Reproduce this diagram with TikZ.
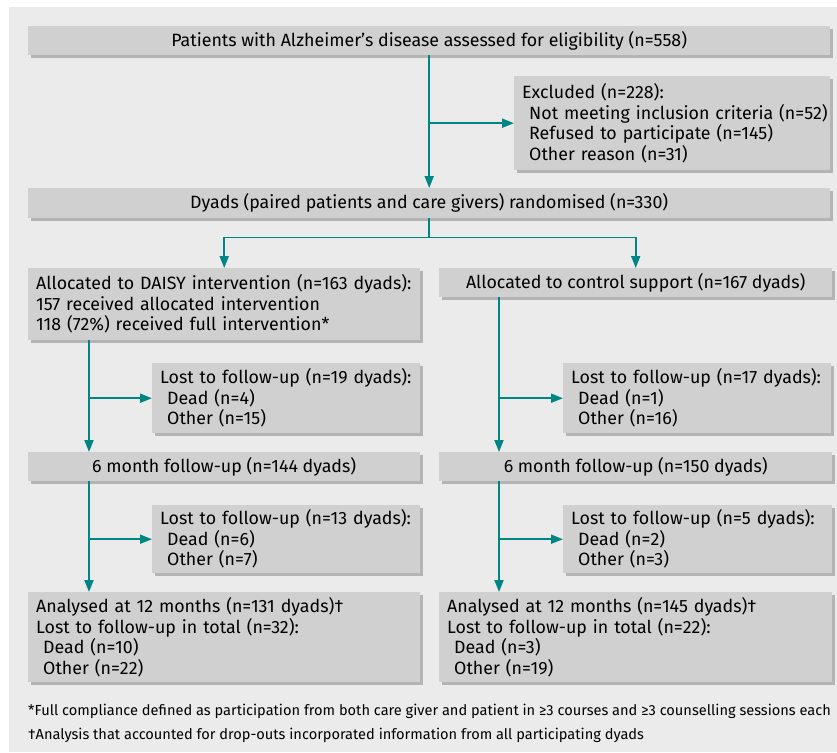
\documentclass[tikz,border=0pt]{standalone}
\usepackage{fontspec}
\setmainfont{Fira Sans}
\usetikzlibrary{shadows,arrows.meta,positioning,calc}
\definecolor{panel}{RGB}{235,235,235}
\definecolor{boxgray}{RGB}{208,208,208}
\definecolor{shade}{RGB}{180,180,180}
\definecolor{flowteal}{RGB}{0,133,133}
\tikzset{
  box/.style={fill=boxgray, anchor=north west, inner xsep=8pt, inner ysep=0pt,
    font=\fontsize{17.8}{20.5}\selectfont,
    drop shadow={shadow xshift=3pt, shadow yshift=-3pt, fill=shade, opacity=1}},
  lbox/.style={box, align=left, text width=#1},
  cbox/.style={box, align=center, minimum width=#1},
  flow/.style={draw=flowteal, line width=1.8pt, -{Triangle[length=12pt,width=9pt]}},
  note/.style={anchor=west, inner sep=0pt, font=\fontsize{14.6}{16}\selectfont}
}
\begin{document}
\begin{tikzpicture}[x=1pt,y=-1pt]
  \useasboundingbox (0,0) rectangle (837,752);
  \fill[panel] (9,7) rectangle (837,752);
  % screening and randomisation
  \node[cbox=802pt, minimum height=29pt] (b0) at (28,26)
    {Patients with Alzheimer’s disease assessed for eligibility (n=558)};
  \node[lbox=312pt, inner xsep=2pt, minimum height=94pt] (b1) at (514,76)
    {\hspace*{6pt}Excluded (n=228):\\
     \hspace*{13pt}Not meeting inclusion criteria (n=52)\\
     \hspace*{13pt}Refused to participate (n=145)\\
     \hspace*{13pt}Other reason (n=31)};
  \node[cbox=802pt, minimum height=30pt] (b2) at (28,188)
    {Dyads (paired patients and care givers) randomised (n=330)};
  % allocation
  \node[lbox=376pt, minimum height=72pt] (b3) at (28,268)
    {Allocated to DAISY intervention (n=163 dyads):\\
     157 received allocated intervention\\
     118 (72\%) received full intervention*};
  \node[cbox=393pt, minimum height=29pt] (b4) at (439,268)
    {Allocated to control support (n=167 dyads)};
  \node[lbox=252pt, minimum height=70pt] (b5) at (152,363)
    {Lost to follow-up (n=19 dyads):\\
     \hspace*{7pt}Dead (n=4)\\
     \hspace*{7pt}Other (n=15)};
  \node[lbox=252pt, minimum height=70pt] (b6) at (563,363)
    {Lost to follow-up (n=17 dyads):\\
     \hspace*{7pt}Dead (n=1)\\
     \hspace*{7pt}Other (n=16)};
  % follow-up
  \node[cbox=392pt, minimum height=29pt] (b7) at (28,452)
    {6 month follow-up (n=144 dyads)};
  \node[cbox=393pt, minimum height=29pt] (b8) at (439,452)
    {6 month follow-up (n=150 dyads)};
  \node[lbox=252pt, minimum height=68pt] (b9) at (152,505)
    {Lost to follow-up (n=13 dyads):\\
     \hspace*{7pt}Dead (n=6)\\
     \hspace*{7pt}Other (n=7)};
  \node[lbox=253pt, minimum height=68pt] (b10) at (563,505)
    {Lost to follow-up (n=5 dyads):\\
     \hspace*{7pt}Dead (n=2)\\
     \hspace*{7pt}Other (n=3)};
  % analysis
  \node[lbox=376pt, minimum height=90pt] (b11) at (28,592)
    {Analysed at 12 months (n=131 dyads)†\\
     Lost to follow-up in total (n=32):\\
     \hspace*{7pt}Dead (n=10)\\
     \hspace*{7pt}Other (n=22)};
  \node[lbox=377pt, minimum height=90pt] (b12) at (439,592)
    {Analysed at 12 months (n=145 dyads)†\\
     Lost to follow-up in total (n=22):\\
     \hspace*{7pt}Dead (n=3)\\
     \hspace*{7pt}Other (n=19)};
  \node[note] (f1) at (28,711)
    {*Full compliance defined as participation from both care giver and patient in ≥3 courses and ≥3 counselling sessions each};
  \node[note] (f2) at (28,735)
    {†Analysis that accounted for drop-outs incorporated information from all participating dyads};
  % connectors
  \draw[flow] (b0) -- (b2);
  \draw[flow] (b0.south |- b1.west) -- (b1.west);
  \coordinate (sp) at ($(b2.south)+(0,19)$);
  \draw[flowteal, line width=1.8pt] (b2) -- (sp);
  \draw[flow] (sp) -| (b3);
  \draw[flow] (sp) -| (b4);
  \coordinate (ta) at ([xshift=61pt]b3.south west);
  \coordinate (tb) at ([xshift=60pt]b4.south west);
  \draw[flow] (ta) -- (ta |- b7.north);
  \draw[flow] (ta |- b5.west) -- (b5.west);
  \draw[flow] (tb) -- (tb |- b8.north);
  \draw[flow] (tb |- b6.west) -- (b6.west);
  \coordinate (tc) at ([xshift=61pt]b7.south west);
  \coordinate (td) at ([xshift=60pt]b8.south west);
  \draw[flow] (tc) -- (tc |- b11.north);
  \draw[flow] (tc |- b9.west) -- (b9.west);
  \draw[flow] (td) -- (td |- b12.north);
  \draw[flow] (td |- b10.west) -- (b10.west);
\end{tikzpicture}
\end{document}
